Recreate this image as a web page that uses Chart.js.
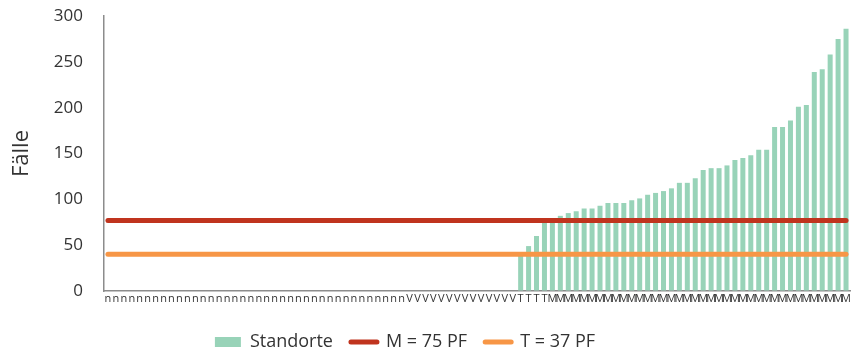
<!DOCTYPE html>
<html>
<head>
<meta charset="utf-8">
<script src="https://cdn.jsdelivr.net/npm/chart.js@4.4.1/dist/chart.umd.min.js"></script>
<style>
    html, body { margin: 0; padding: 0; background: #fff; }
</style>
</head>
<body>
<canvas id="chart" width="852" height="351"></canvas>
<script>
// ─── Data ───
// category labels along the x axis (n, V, T, M groups)
const categories = (
    'nnnnnnnnnnnnnnnnnnnnnnnnnnnnnnnnnnnnnn' +
    'VVVVVVVVVVVVVV' +
    'TTTT' +
    'MMMMMMMMMMMMMMMMMMMMMMMMMMMMMMMMMMMMMM'
).split('');

// only the T and M categories carry a bar; they sit at the end of the axis
const standorteValues = [
    39, 49, 60, 76,
    76, 82, 85, 87, 90, 90, 93, 96, 96, 96,
    99, 101, 105, 107, 109, 112, 118, 118, 123, 132,
    134, 134, 137, 143, 145, 148, 154, 154, 179, 179,
    186, 201, 203, 239, 242, 258, 275, 286
];

// reference lines as they sit in the picture
const mLevel = 77;
const tLevel = 40;

const yTicks = [0, 50, 100, 150, 200, 250, 300];

// ─── Build datasets ───
const firstBar = categories.length - standorteValues.length;
const barData = categories.map((c, i) => i >= firstBar ? standorteValues[i - firstBar] : null);
const mData = categories.map(() => mLevel);
const tData = categories.map(() => tLevel);

const FONT = "'Open Sans', sans-serif";
const TEXT = '#333333';
const AXIS = '#8c8c8c';

// legend sits a bit lower and a bit left of centre in the original
const legendTweak = {
    id: 'legendTweak',
    beforeInit(chart) {
        const fit = chart.legend.fit;
        chart.legend.fit = function () {
            fit.call(this);
            this.height -= 10;
        };
    },
    afterLayout(chart) {
        chart.legend.right -= 40;
    }
};

new Chart(document.getElementById('chart').getContext('2d'), {
    type: 'bar',
    data: {
        labels: categories,
        datasets: [{
            label: 'Standorte',
            data: barData,
            backgroundColor: '#98d3b8',
            borderWidth: 0,
            categoryPercentage: 1,
            barPercentage: 0.63,
            order: 2
        }, {
            type: 'line',
            label: 'M = 75 PF',
            data: mData,
            borderColor: '#c0341e',
            backgroundColor: '#c0341e',
            borderWidth: 5,
            borderCapStyle: 'round',
            pointRadius: 0,
            fill: false,
            order: 1
        }, {
            type: 'line',
            label: 'T = 37 PF',
            data: tData,
            borderColor: '#f79646',
            backgroundColor: '#f79646',
            borderWidth: 5,
            borderCapStyle: 'round',
            pointRadius: 0,
            fill: false,
            order: 1
        }]
    },
    options: {
        responsive: false,
        animation: false,
        layout: { padding: { left: 0, right: 2, top: 16, bottom: 0 } },
        plugins: {
            tooltip: { enabled: false },
            legend: {
                position: 'bottom',
                labels: {
                    color: TEXT,
                    font: { family: FONT, size: 18 },
                    usePointStyle: true,
                    pointStyleWidth: 26,
                    boxHeight: 10,
                    padding: 18,
                    sort: (a, b) => a.datasetIndex - b.datasetIndex,
                    generateLabels: chart => {
                        const items = Chart.defaults.plugins.legend.labels.generateLabels(chart);
                        items.forEach(it => {
                            it.pointStyle = it.datasetIndex === 0 ? 'rect' : 'line';
                            if (it.datasetIndex !== 0) it.lineCap = 'round';
                        });
                        return items;
                    }
                }
            }
        },
        scales: {
            x: {
                grid: { display: false, drawTicks: false },
                border: { display: true, color: AXIS, width: 1.5 },
                ticks: {
                    autoSkip: false,
                    maxRotation: 0,
                    minRotation: 0,
                    padding: 1,
                    color: TEXT,
                    font: { family: FONT, size: 11 }
                },
                afterFit: s => { s.height = 24; }
            },
            y: {
                min: 0,
                max: 300,
                // invisible tick marks keep the labels clear of the axis line
                grid: {
                    display: true,
                    drawOnChartArea: false,
                    drawTicks: true,
                    tickLength: 21,
                    color: 'rgba(0,0,0,0)'
                },
                border: { display: true, color: AXIS, width: 1.5 },
                afterBuildTicks: s => { s.ticks = yTicks.map(v => ({ value: v })); },
                ticks: {
                    padding: 0,
                    color: TEXT,
                    font: { family: FONT, size: 17 }
                },
                title: {
                    display: true,
                    text: 'Fälle',
                    color: TEXT,
                    font: { family: FONT, size: 22 },
                    padding: { top: 9, bottom: 0 }
                },
                afterFit: s => { s.width = 104; }
            }
        }
    },
    plugins: [legendTweak]
});
</script>
</body>
</html>
